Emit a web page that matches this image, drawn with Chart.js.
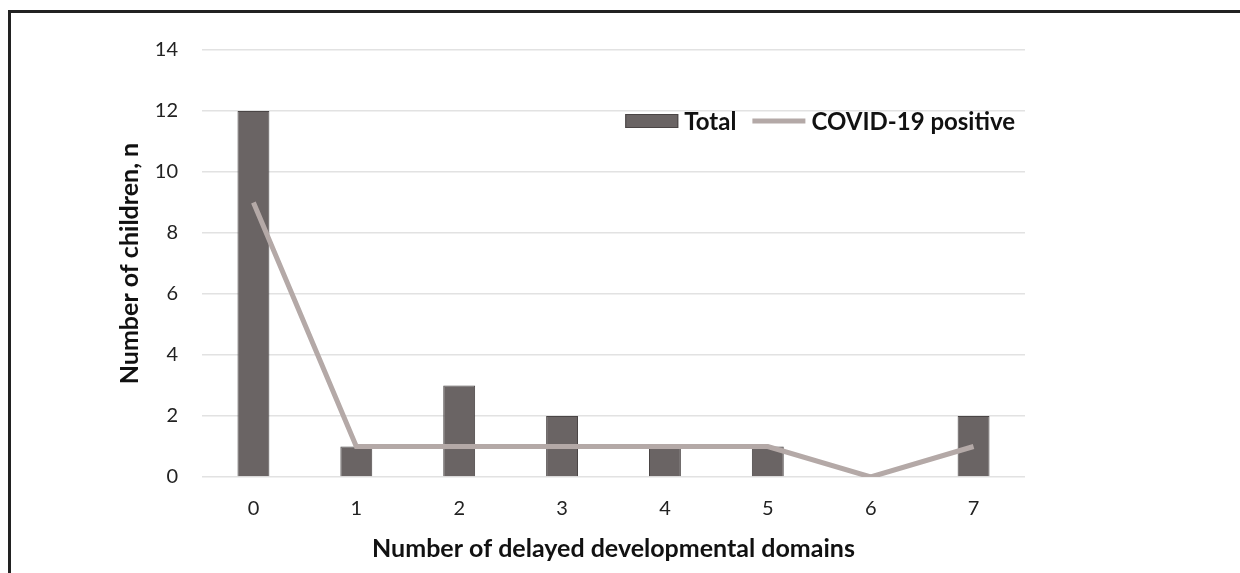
<!DOCTYPE html>
<html>
<head>
<meta charset="utf-8">
<script src="https://cdn.jsdelivr.net/npm/chart.js@4/dist/chart.umd.min.js"></script>
<style>
  html, body { margin: 0; padding: 0; background: #fff; }
  #wrap { position: relative; width: 1240px; height: 573px; overflow: hidden; }
  #frame { position: absolute; left: 8px; top: 10px; width: 1300px; height: 700px;
           border-top: 3px solid #222; border-left: 3px solid #222; pointer-events: none; }
  canvas { position: absolute; left: 0; top: 0; }
</style>
</head>
<body>
<div id="wrap">
  <canvas id="c" width="1240" height="573"></canvas>
  <div id="frame"></div>
</div>
<script>
// Number of delayed developmental domains per child
const categories = ['0', '1', '2', '3', '4', '5', '6', '7'];
const totalCounts = [12, 1, 3, 2, 1, 1, 0, 2];
const covidPositive = [9, 1, 1, 1, 1, 1, 0, 1];
const yTicks = [0, 2, 4, 6, 8, 10, 12, 14];

const FONT = 'Lato, "Open Sans", "DejaVu Sans", sans-serif';
const BAR_FILL = '#6a6464';
const BAR_EDGE = '#4a4545';
const LINE_COLOR = '#b4a9a7';

// Legend drawn inside the plot area, right-aligned near the top
const insideLegend = {
  id: 'insideLegend',
  afterDraw(chart) {
    const ctx = chart.ctx;
    const area = chart.chartArea;
    const ds = chart.data.datasets;
    const y = area.top + 71;
    ctx.save();
    ctx.font = 'bold 24px ' + FONT;
    ctx.textBaseline = 'middle';
    const sw = 53, gapSym = 6, gapItem = 16;
    const w0 = ctx.measureText(ds[0].label).width;
    const w1 = ctx.measureText(ds[1].label).width;
    const total = sw + gapSym + w0 + gapItem + sw + gapSym + w1;
    let x = area.right - 10 - total;
    // bar swatch
    ctx.fillStyle = BAR_FILL;
    ctx.strokeStyle = BAR_EDGE;
    ctx.lineWidth = 1;
    ctx.fillRect(x, y - 7, sw, 14);
    ctx.strokeRect(x + 0.5, y - 6.5, sw - 1, 13);
    x += sw + gapSym;
    ctx.fillStyle = '#111';
    ctx.fillText(ds[0].label, x, y + 1);
    x += w0 + gapItem;
    // line swatch
    ctx.strokeStyle = LINE_COLOR;
    ctx.lineWidth = 5;
    ctx.beginPath();
    ctx.moveTo(x, y);
    ctx.lineTo(x + sw, y);
    ctx.stroke();
    x += sw + gapSym;
    ctx.fillStyle = '#111';
    ctx.fillText(ds[1].label, x, y + 1);
    ctx.restore();
  }
};

new Chart(document.getElementById('c'), {
  data: {
    labels: categories,
    datasets: [
      {
        type: 'bar',
        label: 'Total',
        data: totalCounts,
        backgroundColor: BAR_FILL,
        borderColor: BAR_EDGE,
        borderWidth: 1,
        categoryPercentage: 1,
        barPercentage: 0.31,
        order: 2
      },
      {
        type: 'line',
        label: 'COVID-19 positive',
        data: covidPositive,
        borderColor: LINE_COLOR,
        borderWidth: 5,
        pointRadius: 0,
        tension: 0,
        fill: false,
        order: 1
      }
    ]
  },
  options: {
    responsive: false,
    animation: false,
    devicePixelRatio: 1,
    layout: { padding: { left: 110, right: 215, top: 50, bottom: 0 } },
    plugins: {
      legend: { display: false },
      tooltip: { enabled: false }
    },
    scales: {
      x: {
        grid: { display: false, drawTicks: false },
        border: { display: false },
        ticks: { color: '#222', font: { family: FONT, size: 20 }, padding: 20 },
        title: {
          display: true,
          text: 'Number of delayed developmental domains',
          color: '#111',
          font: { family: FONT, size: 25, weight: 'bold', lineHeight: 1.2 },
          padding: { top: 0, bottom: 9 }
        },
        afterFit(scale) { scale.height = 96; }
      },
      y: {
        min: 0,
        max: 14,
        afterBuildTicks(scale) { scale.ticks = yTicks.map(v => ({ value: v })); },
        grid: { color: '#e2e2e2', lineWidth: 1.5, drawTicks: false },
        border: { display: false },
        ticks: { color: '#222', font: { family: FONT, size: 20 }, padding: 24 },
        title: {
          display: true,
          text: 'Number of children, n',
          color: '#111',
          font: { family: FONT, size: 25, weight: 'bold', lineHeight: 1.2 },
          padding: { top: 5, bottom: 0 }
        },
        afterFit(scale) { scale.width = 92; }
      }
    }
  },
  plugins: [insideLegend]
});
</script>
</body>
</html>
